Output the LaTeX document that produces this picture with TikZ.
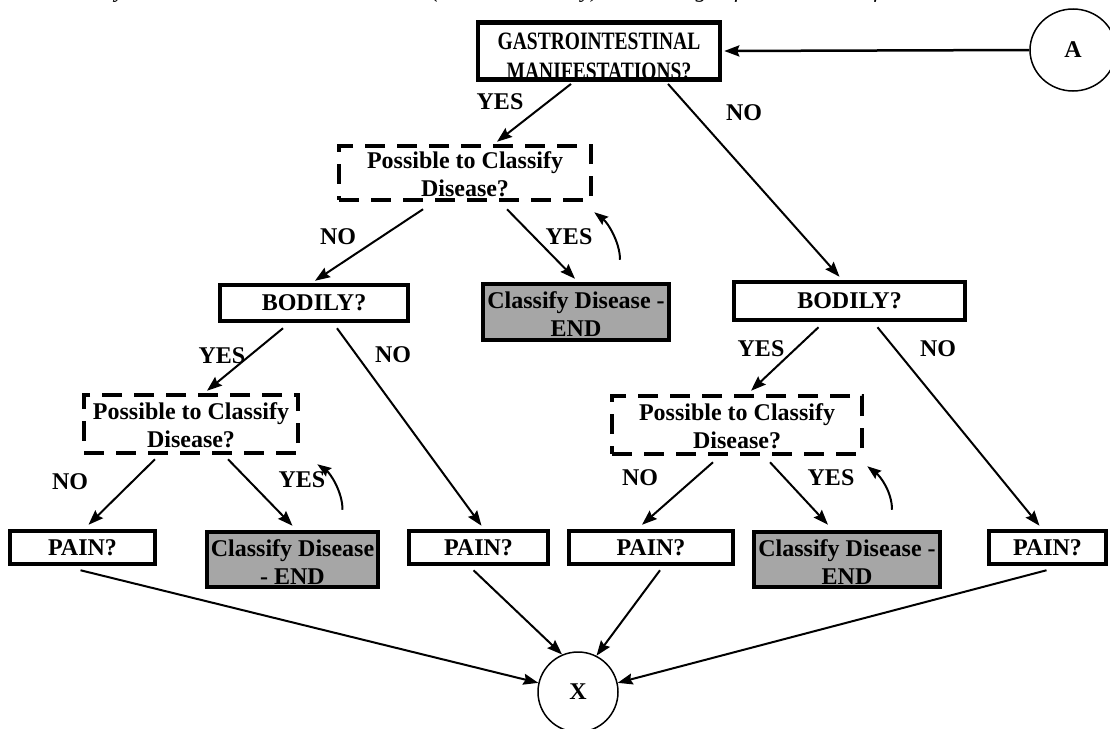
\documentclass[tikz,border=0pt]{standalone}
\usepackage{fontspec}
\setmainfont{Liberation Serif}
\usetikzlibrary{arrows.meta,calc,shapes.geometric}
\definecolor{endgray}{RGB}{166,166,166}
\newcommand{\lift}[1]{\rule{0pt}{#1}}
\begin{document}
\begin{tikzpicture}[x=1pt,y=-1pt,
  txt/.style={font=\fontsize{24}{28}\selectfont\bfseries},
  qbox/.style={txt, draw, line width=4.5pt, inner sep=0pt, align=center},
  dbox/.style={qbox, dash pattern=on 20pt off 12pt},
  endbox/.style={qbox, fill=endgray},
  term/.style={txt, draw, line width=1.5pt, inner sep=0pt},
  lbl/.style={txt, inner sep=0pt},
  conn/.style={line width=2pt, -{Stealth[length=15pt,width=11pt,inset=2pt]}},
  loop/.style={line width=2pt, -{Stealth[length=14pt,width=10pt,inset=2pt]}},
]
\useasboundingbox (0,0) rectangle (1110,728);
\clip (0,0) rectangle (1110,728);

% running text above the chart, cut off by the page edge
\node[anchor=base west, inner sep=0pt, font=\fontsize{23}{28}\selectfont\itshape] (caption) at (10,-2.5)
  {Tool Clearly Still Possible to be Constructive (based on history) that a range of Disease Manifestations};

% decision boxes
\node[qbox, minimum width=242, minimum height=54,
      font=\fontsize{25}{30}\selectfont\bfseries\addfontfeature{FakeStretch=0.78}] (gi) at (599,51)
  {\lift{27pt}GASTROINTESTINAL\\MANIFESTATIONS?};
\node[term, ellipse, minimum width=86, minimum height=82] (a) at (1073,50) {A};

\node[dbox, minimum width=252, minimum height=54] (pc1) at (465,173) {\lift{20pt}Possible to Classify\\Disease?};
\node[qbox, minimum width=188, minimum height=36] (bod1) at (314,303) {BODILY?};
\node[endbox, minimum width=186, minimum height=56] (cd1) at (576,312) {\lift{22pt}Classify Disease -\\END};
\node[qbox, minimum width=231, minimum height=38] (bod2) at (849.5,301) {BODILY?};

\node[dbox, minimum width=214, minimum height=58] (pc2) at (191,424) {\lift{20pt}Possible to Classify\\Disease?};
\node[dbox, minimum width=250, minimum height=58] (pc3) at (737,425) {\lift{20pt}Possible to Classify\\Disease?};

\node[qbox, minimum width=145, minimum height=33] (pain1) at (82.5,547.5) {PAIN?};
\node[endbox, minimum width=171, minimum height=55] (cd2) at (292.5,559.5) {\lift{22pt}Classify Disease\\- END};
\node[qbox, minimum width=139, minimum height=33] (pain3) at (478.5,547.5) {PAIN?};
\node[qbox, minimum width=164, minimum height=33] (pain4) at (651,547.5) {PAIN?};
\node[endbox, minimum width=186, minimum height=55] (cd3) at (847,559.5) {\lift{22pt}Classify Disease -\\END};
\node[qbox, minimum width=117, minimum height=33] (pain6) at (1047.5,547.5) {PAIN?};

\node[term, circle, minimum size=80] (x) at (578,692) {X};

% branch labels
\node[lbl] (y1) at (500,102) {YES};
\node[lbl] (n1) at (744,113) {NO};
\node[lbl] (n2) at (338,237) {NO};
\node[lbl] (y2) at (569,237) {YES};
\node[lbl] (y3) at (222,356) {YES};
\node[lbl] (n3) at (393,355) {NO};
\node[lbl] (y4) at (761,349) {YES};
\node[lbl] (n4) at (938,349) {NO};
\node[lbl] (n5) at (70,482) {NO};
\node[lbl] (y5) at (302,480) {YES};
\node[lbl] (n6) at (640,478) {NO};
\node[lbl] (y6) at (831,478) {YES};

% connectors
\draw[conn, line width=2.5pt] (a.west) -- ($(gi.east)+(2,0)$);
\draw[conn] ($(gi.south)+(-28,2)$) -- ($(pc1.north)+(32,-2)$);
\draw[conn] ($(gi.south)+(69,2)$) -- ($(bod2.north)+(-10,-3)$);

\draw[conn] ($(pc1.south)+(-42,7)$) -- ($(bod1.north)+(1,-2)$);
\draw[conn] ($(pc1.south)+(42,7)$) -- ($(cd1.north)+(-1,-3)$);
\draw[loop] ($(cd1.north)+(44,-22)$) .. controls ($(cd1.north)+(44,-40)$) and ($(pc1.south east)+(14,20)$) .. ($(pc1.south east)+(1,10)$);

\draw[conn] ($(bod1.south)+(-31,5)$) -- ($(pc2.north)+(16,-2)$);
\draw[conn] ($(bod1.south)+(23,5)$) -- ($(pain3.north)+(3,-3)$);
\draw[conn] ($(bod2.south)+(-31,5)$) -- ($(pc3.north)+(14,-3)$);
\draw[conn] ($(bod2.south)+(28,5)$) -- ($(pain6.north)+(-8,-3)$);

\draw[conn] ($(pc2.south)+(-36,4)$) -- ($(pain1.north)+(6,-4)$);
\draw[conn] ($(pc2.south)+(37,4)$) -- ($(cd2.north)+(0,-4)$);
\draw[loop] ($(cd2.north)+(50,-20)$) .. controls ($(cd2.north)+(50,-38)$) and ($(pc2.south east)+(30,18)$) .. ($(pc2.south east)+(17,9)$);

\draw[conn] ($(pc3.south)+(-24,6)$) -- ($(pain4.north)+(-9,-4)$);
\draw[conn] ($(pc3.south)+(33,6)$) -- ($(cd3.north)+(-19,-5)$);
\draw[loop] ($(cd3.north)+(45,-20)$) .. controls ($(cd3.north)+(45,-38)$) and ($(pc3.south east)+(16,20)$) .. ($(pc3.south east)+(3,10)$);

\draw[conn] ($(pain1.south)+(-2,4)$) -- (x.167);
\draw[conn] ($(pain3.south)+(-5,4)$) -- (x.113);
\draw[conn] ($(pain4.south)+(9,4)$) -- (x.63);
\draw[conn] ($(pain6.south)+(-1,4)$) -- (x.13);
\end{tikzpicture}
\end{document}
